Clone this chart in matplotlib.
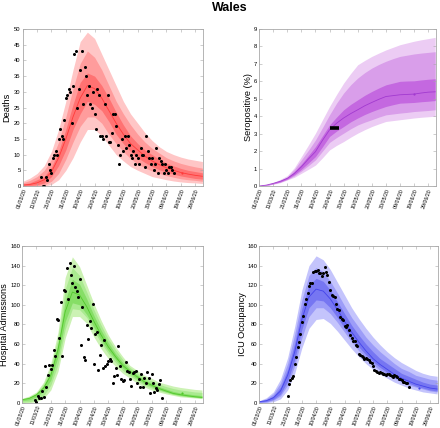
import numpy as np
import matplotlib
matplotlib.use("Agg")
import matplotlib.pyplot as plt

plt.rcParams['font.family'] = ['Liberation Sans', 'DejaVu Sans']

# ==============================================================================
# x axis: days since 01/03/20
tick_days = [0, 10, 20, 30, 40, 50, 60, 70, 80, 90, 100, 110, 120]
tick_labels = ["01/03/20", "11/03/20", "21/03/20", "31/03/20", "10/04/20", "20/04/20",
               "30/04/20", "10/05/20", "20/05/20", "30/05/20", "09/06/20", "19/06/20",
               "29/06/20"]

# model output, one value every 5 days from 01/03/20
model_days = [0, 5, 10, 15, 20, 25, 30, 35, 40, 45, 50, 55, 60, 65, 70, 75, 80, 85,
              90, 95, 100, 105, 110, 115, 120, 125]

# ---- deaths
deaths_med = [0.3, 0.5, 1, 2, 4.5, 9, 15, 22, 28, 32, 31, 28, 24, 20, 16.5, 13.5, 11.5,
              9.5, 8, 6.8, 5.8, 5, 4.3, 3.8, 3.4, 3.1]
deaths_hi95 = [1.5, 2.5, 4, 6.5, 11, 18, 27, 37, 46, 49, 47, 42, 37, 32, 27, 23, 20, 17,
               14.5, 12.5, 11, 10, 9.2, 8.6, 8.2, 7.8]
deaths_hi80 = [1, 1.8, 3, 5, 8.5, 14, 22, 31, 39, 43, 41, 37, 32, 27, 23, 19.5, 16.5, 14,
               12, 10.5, 9, 8, 7.2, 6.6, 6.1, 5.7]
deaths_hi50 = [0.6, 1, 2, 3, 6, 11, 18, 26, 33, 36, 35, 32, 28, 23.5, 19.5, 16, 13.5, 11.5,
               10, 8.5, 7.3, 6.4, 5.6, 5, 4.6, 4.2]
deaths_lo50 = [0.1, 0.2, 0.4, 1, 3, 6.5, 11.5, 18, 23, 27, 26, 24, 20.5, 16.5, 13.5, 11, 9,
               7.5, 6.2, 5.2, 4.4, 3.8, 3.2, 2.8, 2.4, 2.2]
deaths_lo80 = [0, 0, 0.1, 0.4, 1.5, 4, 8.5, 14, 19, 22, 22, 20, 16.5, 13.5, 11, 8.7, 7, 5.8,
               4.8, 4, 3.3, 2.8, 2.3, 2, 1.8, 1.5]
deaths_lo95 = [0, 0, 0, 0, 0.5, 2, 5, 9, 14, 18, 18, 16, 13, 10, 8, 6.2, 5, 4, 3, 2.5, 2,
               1.6, 1.3, 1.1, 1, 0.8]
deaths_start = 13
deaths_obs = [3, 0, 0, 3, 2, 7, 5, 4, 9, 10, 11, 10, 15, 18, 16, 15, 21, 28, 29, 31,
              30, 20, 32, 42, 43, 25, 31, 37, 43, 26, 38, 35, 29, 32, 26, 25, 30, 23, 18, 31,
              29, 16, 16, 15, 26, 16, 29, 14, 14, 17, 23, 23, 19, 13, 7, 10, 15, 11, 16, 12,
              16, 13, 10, 9, 11, 7, 10, 9, 7, 12, 10, 10, 6, 16, 11, 9, 7, 9, 5, 7,
              12, 4, 9, 8, 7, 4, 7, 5, 4, 6, 6, 5, 4]
deaths_last = (111, 4)

# ---- seropositive (%)
sero_med = [0, 0.05, 0.15, 0.27, 0.44, 0.72, 1.1, 1.55, 1.97, 2.62, 3.22, 3.6, 3.9, 4.15,
            4.37, 4.6, 4.79, 4.97, 5.13, 5.18, 5.23, 5.25, 5.27, 5.33, 5.38, 5.4]
sero_hi95 = [0, 0.07, 0.2, 0.38, 0.6, 1.05, 1.69, 2.35, 3.03, 3.8, 4.56, 5.25, 5.9, 6.45,
             6.95, 7.2, 7.43, 7.62, 7.8, 7.95, 8.1, 8.2, 8.3, 8.38, 8.45, 8.52]
sero_hi80 = [0, 0.06, 0.18, 0.33, 0.53, 0.95, 1.5, 2.05, 2.64, 3.35, 4.08, 4.75, 5.33, 5.8,
             6.19, 6.5, 6.76, 6.97, 7.15, 7.3, 7.43, 7.5, 7.57, 7.62, 7.66, 7.7]
sero_hi50 = [0, 0.05, 0.16, 0.3, 0.49, 0.83, 1.26, 1.75, 2.26, 2.88, 3.5, 3.95, 4.37, 4.68,
             4.94, 5.2, 5.42, 5.62, 5.8, 5.9, 6.0, 6.02, 6.03, 6.08, 6.12, 6.15]
sero_lo50 = [0, 0.04, 0.13, 0.24, 0.4, 0.65, 0.96, 1.32, 1.69, 2.25, 2.84, 3.15, 3.41, 3.68,
             3.9, 4.1, 4.27, 4.42, 4.56, 4.66, 4.75, 4.77, 4.79, 4.83, 4.86, 4.9]
sero_lo80 = [0, 0.03, 0.12, 0.22, 0.37, 0.58, 0.86, 1.17, 1.5, 2.0, 2.5, 2.78, 3.03, 3.28,
             3.5, 3.66, 3.8, 3.95, 4.08, 4.13, 4.18, 4.22, 4.27, 4.3, 4.33, 4.37]
sero_lo95 = [0, 0.02, 0.1, 0.19, 0.35, 0.5, 0.73, 0.96, 1.2, 1.62, 2.07, 2.33, 2.55, 2.8,
             3.03, 3.23, 3.41, 3.56, 3.7, 3.75, 3.8, 3.85, 3.9, 3.94, 3.97, 4.0]
sero_survey = ([50.5, 57], 3.35)
sero_last = (110, 5.28)

# ---- hospital admissions
adm_med = [3, 4.4, 8, 15, 28, 54, 93, 113, 110, 98, 83, 69, 57, 47, 38, 32, 26.5, 21.4,
           18, 14.6, 12, 9.5, 8.2, 7.1, 6.1, 5.4]
adm_hi95 = [4.4, 6.8, 11, 21, 40, 72, 128, 149, 139, 120, 101, 84, 69, 57, 47, 38, 33, 28,
            25, 21, 19, 17, 15.6, 14.6, 13.6, 13]
adm_hi80 = [4, 6, 10, 19, 36, 66, 116, 138, 130, 113, 95, 79, 65, 54, 44, 36, 30.5, 25.5,
            22.5, 19, 16.5, 14.5, 13, 12, 11, 10.5]
adm_hi50 = [3.5, 5.2, 9, 17, 32, 60, 104, 126, 121, 106, 89, 74, 61, 50, 41, 34, 28.5, 23.5,
            20, 16.5, 14, 11.5, 10, 9, 8, 7.3]
adm_lo50 = [2, 3, 6, 12, 23, 47, 83, 102, 100, 90, 77, 64, 53, 44, 35.5, 29.5, 24.5, 19.5,
            16.5, 13.5, 11, 8.8, 7.5, 6.5, 5.7, 5]
adm_lo80 = [0.5, 1, 2.5, 7, 18, 39, 75, 96, 95, 87, 73, 61, 50, 41, 33, 27.5, 22.5, 18,
            15, 12.5, 10.5, 8.5, 7, 6.2, 5.5, 4.8]
adm_lo95 = [0, 0, 1, 4.4, 13, 32, 66, 88, 88, 81, 67, 55, 45, 37, 30, 25, 20, 16, 13, 11,
            9, 7.5, 6, 5.4, 4.8, 4.1]
adm_start = 9
adm_obs = [2.7, 0.7, 6.8, 5, 5, 12, 6, 37, 16, 28, 39, 34, 39, 54, 48, 85, 84, 66, 103, 48,
           115, 114, 138, 106, 143, 130, 122, 140, 118, 114, 108, 126, 59, 98, 47, 44, 79, 65,
           83, 76, 101, 40, 70, 72, 33, 49, 59, 35, 64, 38, 40, 43, 45, 43, 20, 27, 35, 28,
           58, 37, 24, 22, 23, 42, 32, 31, 24, 17, 30, 31, 32, 20, 24, 16, 29, 16, 25, 20,
           31, 25, 9.5, 29, 20, 11, 15, 13, 19, 23, 4.4]
adm_last = (111, 9.5)

# ---- ICU occupancy
icu_med = [1, 2, 5, 12, 28, 52, 85, 108, 116, 114, 106, 95, 83, 72, 62, 53, 45, 39, 34,
           29, 25, 22, 19, 17, 15, 14]
icu_hi95 = [2, 5, 11, 24, 46, 78, 115, 140, 150, 146, 136, 123, 110, 97, 86, 76, 67, 59,
            52, 46, 41, 37, 33, 30, 28, 27]
icu_hi80 = [1.7, 4, 9, 20, 40, 70, 105, 130, 138, 134, 124, 112, 99, 87, 77, 67, 59, 52,
            46, 40, 35, 32, 28, 26, 24, 23]
icu_hi50 = [1.3, 3, 7, 16, 34, 61, 96, 120, 127, 124, 115, 103, 91, 79, 69, 60, 52, 45,
            40, 35, 30, 27, 24, 21, 19, 18]
icu_lo50 = [0.6, 1.3, 3.5, 9, 22, 44, 75, 97, 105, 104, 97, 87, 76, 66, 57, 49, 42, 36,
            31, 26, 23, 20, 17, 15, 13, 12]
icu_lo80 = [0.3, 0.6, 2.5, 7, 18, 38, 66, 88, 97, 97, 91, 82, 72, 62, 53, 46, 39, 33,
            29, 25, 21, 18, 16, 14, 12, 11]
icu_lo95 = [0, 0, 1, 4, 13, 30, 56, 76, 85, 86, 81, 73, 64, 55, 47, 40, 34, 29, 25, 21,
            18, 15, 13, 11, 10, 9]
icu_start = 20
icu_obs = [7, 19, 23, 25, 27, 40, 47, 57, 62, 70, 82, 89, 101, 106, 112, 119, 122, 122, 133,
           135, 135, 136, 132, 132, 129, 132, 139, 134, 130, 123, 115, 110, 109, 108, 101,
           96, 95, 88, 86, 84, 78, 77, 79, 74, 69, 66, 63, 63, 59, 58, 50, 49, 48, 47, 45,
           46, 45, 44, 42, 41, 37, 33, 32, 31, 30, 31, 30, 29, 29, 28, 29, 29, 28, 27, 26.5,
           28, 27.5, 26, 24.5, 24, 23, 21.4, 21, 20, 20, 16]
icu_last = (112, 15)

# ==============================================================================
FRAME = "#a8a8a8"


def style_axis(ax, ylabel, ylim, yticks, label_x):
    ax.set_xlim(0, 125.5)
    ax.set_ylim(*ylim)
    ax.set_xticks(tick_days)
    ax.set_xticklabels(tick_labels, rotation=70, ha="right", va="top",
                       rotation_mode="anchor", fontsize=3.8)
    ax.set_yticks(yticks)
    ax.tick_params(axis="y", labelsize=4.2)
    ax.tick_params(direction="in", top=True, right=True, length=2, width=0.4,
                   color=FRAME, pad=1.5)
    for sp in ax.spines.values():
        sp.set_color(FRAME)
        sp.set_linewidth(0.6)
    ax.set_ylabel(ylabel, fontsize=6.6, va="center")
    ax.yaxis.set_label_coords(label_x, 0.5)


def draw_bands(ax, lo95, lo80, lo50, med, hi50, hi80, hi95, colors):
    ax.fill_between(model_days, lo95, hi95, color=colors[0], lw=0)
    ax.fill_between(model_days, lo80, hi80, color=colors[1], lw=0)
    ax.fill_between(model_days, lo50, hi50, color=colors[2], lw=0)
    ax.plot(model_days, med, color=colors[3], lw=0.6)


def draw_obs(ax, start, obs):
    days = np.arange(start, start + len(obs))
    ax.plot(days, obs, "o", color="black", ms=2.2, mew=0)


fig = plt.figure(figsize=(4.4, 4.28), dpi=100)
fig.text(0.523, 0.982, "Wales", fontsize=9, fontweight="bold", ha="center", va="center")

# deaths
ax = fig.add_axes([0.0516, 0.5654, 0.41, 0.3668])
draw_bands(ax, deaths_lo95, deaths_lo80, deaths_lo50, deaths_med, deaths_hi50,
           deaths_hi80, deaths_hi95, ["#ffc6c6", "#ff9c9c", "#ff7272", "#ff3a3a"])
draw_obs(ax, deaths_start, deaths_obs)
ax.plot(*deaths_last, "o", color="#ff3a3a", ms=1.6, mew=0)
style_axis(ax, "Deaths", (0, 50), range(0, 51, 5), -0.087)

# seropositive
ax = fig.add_axes([0.589, 0.5654, 0.4016, 0.3668])
draw_bands(ax, sero_lo95, sero_lo80, sero_lo50, sero_med, sero_hi50, sero_hi80,
           sero_hi95, ["#ecccf4", "#d99eea", "#c468e0", "#a23ad0"])
ax.plot(sero_survey[0], [sero_survey[1]] * 2, color="black", lw=2.6, solid_capstyle="butt")
ax.plot(*sero_last, "o", color="#a23ad0", ms=1.6, mew=0)
style_axis(ax, "Seropositive (%)", (0, 9), range(0, 10), -0.062)

# hospital admissions
ax = fig.add_axes([0.05, 0.0591, 0.4106, 0.366])
draw_bands(ax, adm_lo95, adm_lo80, adm_lo50, adm_med, adm_hi50, adm_hi80, adm_hi95,
           ["#ccf2b4", "#aaea90", "#86de66", "#52c82c"])
draw_obs(ax, adm_start, adm_obs)
ax.plot(*adm_last, "o", color="#52c82c", ms=1.6, mew=0)
style_axis(ax, "Hospital Admissions", (0, 160), range(0, 161, 20), -0.097)

# ICU occupancy
ax = fig.add_axes([0.589, 0.0591, 0.406, 0.366])
draw_bands(ax, icu_lo95, icu_lo80, icu_lo50, icu_med, icu_hi50, icu_hi80, icu_hi95,
           ["#c4c4fc", "#9c9cf8", "#7676f2", "#4444ea"])
draw_obs(ax, icu_start, icu_obs)
ax.plot(*icu_last, "o", color="#4444ea", ms=1.6, mew=0)
style_axis(ax, "ICU Occupancy", (0, 160), range(0, 161, 20), -0.096)

fig.savefig("out.png", dpi=100)
